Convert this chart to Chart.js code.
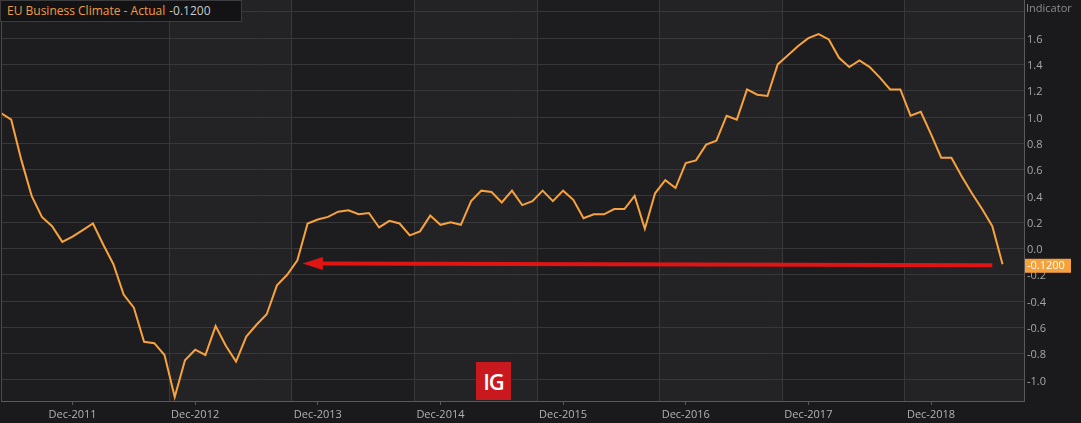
<!DOCTYPE html>
<html>
<head>
<meta charset="utf-8">
<script src="https://cdn.jsdelivr.net/npm/chart.js@4/dist/chart.umd.min.js"></script>
<style>
    html, body { margin: 0; padding: 0; background: #1a1a1c; }
    #wrap { position: relative; width: 1081px; height: 423px; overflow: hidden; }
    canvas { display: block; }
    #legendBox {
        position: absolute; left: 0; top: 0; width: 242px; height: 22px;
        background: #131315; border: 1px solid #3c3c3e; box-sizing: border-box;
        font: 12px "Open Sans", sans-serif; line-height: 20px; padding-left: 6px;
        white-space: nowrap;
    }
    #legendBox .name { color: #f39b3e; }
    #legendBox .val { color: #c8c8c8; margin-left: 4px; }
    #igLogo {
        position: absolute; left: 476px; top: 362px; width: 35px; height: 38px;
        background: #c9191e; color: #fff; text-align: center;
        font: 600 22px "Open Sans", sans-serif; line-height: 38px; letter-spacing: -1px;
    }
</style>
</head>
<body>
<div id="wrap">
    <canvas id="chart" width="1081" height="423"></canvas>
    <div id="legendBox"><span class="name">EU Business Climate - Actual</span><span class="val">-0.1200</span></div>
    <div id="igLogo">IG</div>
</div>
<script>
// Data bulanan, mulai Mei 2011 sampai Juli 2019
const startYear = 2011;
const startMonth = 4; // Mei (0 = Jan)
const monthNames = ["Jan", "Feb", "Mar", "Apr", "May", "Jun", "Jul", "Aug", "Sep", "Oct", "Nov", "Dec"];

const climateValues = [
    1.03, 0.98, 0.67, 0.40, 0.24, 0.17, 0.05, 0.09, 0.14, 0.19,
    0.03, -0.12, -0.35, -0.45, -0.71, -0.72, -0.81, -1.13, -0.85, -0.77,
    -0.81, -0.59, -0.74, -0.86, -0.67, -0.58, -0.50, -0.28, -0.20, -0.09,
    0.19, 0.22, 0.24, 0.28, 0.29, 0.26, 0.27, 0.16, 0.21, 0.19,
    0.10, 0.13, 0.25, 0.18, 0.20, 0.18, 0.36, 0.44, 0.43, 0.35,
    0.44, 0.33, 0.36, 0.44, 0.36, 0.44, 0.37, 0.23, 0.26, 0.26,
    0.30, 0.30, 0.40, 0.15, 0.42, 0.52, 0.46, 0.65, 0.67, 0.79,
    0.82, 1.01, 0.98, 1.21, 1.17, 1.16, 1.40, 1.47, 1.54, 1.60,
    1.63, 1.59, 1.45, 1.38, 1.43, 1.38, 1.30, 1.21, 1.21, 1.01,
    1.04, 0.87, 0.69, 0.69, 0.55, 0.42, 0.30, 0.17, -0.12
];

const yTicks = [-1.0, -0.8, -0.6, -0.4, -0.2, 0.0, 0.2, 0.4, 0.6, 0.8, 1.0, 1.2, 1.4, 1.6, 1.8];
const yLabelHidden = [1.8];
const yMin = -1.16;
const yMax = 1.89;
const xMax = 100.1;

// garis grid vertikal (dalam indeks bulan) dan panah merah
const gridMonths = [16.45, 28.45, 40.45, 52.45, 64.45, 76.45, 88.45];
const arrowTail = { x: 97.0, y: -0.128 };
const arrowBase = { x: 31.3, y: -0.115 };
const arrowTip = { x: 29.5, y: -0.115 };

const lastValue = climateValues[climateValues.length - 1];

// label bulan untuk sumbu x
const months = climateValues.map((v, i) => {
    const m = (startMonth + i) % 12;
    const y = startYear + Math.floor((startMonth + i) / 12);
    return monthNames[m] + "-" + y;
});
const decIndex = months.map((m, i) => (m.startsWith("Dec") ? i : -1)).filter((i) => i >= 0);

// Plugin untuk latar, pita selang-seling, panah dan label nilai
const decorPlugin = {
    id: "decor",
    beforeDraw(chart) {
        const { ctx, chartArea: a, scales } = chart;
        ctx.save();
        ctx.fillStyle = "#1d1d1f";
        ctx.fillRect(a.left, a.top, a.right - a.left, a.bottom - a.top);
        ctx.fillStyle = "#232325";
        const edges = gridMonths.map((g) => scales.xg.getPixelForValue(g));
        edges.push(a.right);
        for (let k = 0; k < edges.length - 1; k += 2) {
            ctx.fillRect(edges[k], a.top, edges[k + 1] - edges[k], a.bottom - a.top);
        }
        ctx.restore();
    },
    afterDatasetsDraw(chart) {
        const { ctx, scales } = chart;
        const tipX = scales.x.getPixelForValue(arrowTip.x);
        const tipY = scales.y.getPixelForValue(arrowTip.y);
        const baseX = scales.x.getPixelForValue(arrowBase.x) + 2;
        ctx.save();
        ctx.fillStyle = "#e01414";
        ctx.beginPath();
        ctx.moveTo(tipX, tipY);
        ctx.lineTo(baseX, tipY - 6.5);
        ctx.lineTo(baseX, tipY + 6.5);
        ctx.closePath();
        ctx.fill();
        ctx.restore();
    },
    afterDraw(chart) {
        const { ctx, chartArea: a, scales } = chart;
        ctx.save();
        // garis tepi kiri
        ctx.strokeStyle = "#4a4a4c";
        ctx.lineWidth = 1;
        ctx.beginPath();
        ctx.moveTo(a.left + 0.5, a.top);
        ctx.lineTo(a.left + 0.5, a.bottom);
        ctx.stroke();

        // judul sumbu
        ctx.font = '11px "Open Sans", sans-serif';
        ctx.fillStyle = "#8c8c8c";
        ctx.textBaseline = "middle";
        ctx.textAlign = "left";
        ctx.fillText("Indicator", a.right + 2, 9);

        // kotak nilai terakhir
        const py = scales.y.getPixelForValue(lastValue) + 1.5;
        ctx.fillStyle = "#f7a13c";
        ctx.fillRect(a.right + 1, py - 7, 46, 14);
        ctx.fillStyle = "#ffffff";
        ctx.fillText(lastValue.toFixed(4), a.right + 3, py + 0.5);
        ctx.restore();
    }
};

const ctx = document.getElementById("chart").getContext("2d");

new Chart(ctx, {
    type: "line",
    data: {
        datasets: [
            {
                label: "EU Business Climate - Actual",
                data: climateValues.map((v, i) => ({ x: i, y: v })),
                borderColor: "#f7a23e",
                borderWidth: 2,
                pointRadius: 0,
                tension: 0,
                fill: false,
            },
            {
                label: "arrow",
                data: [arrowTail, arrowBase],
                borderColor: "#e01414",
                borderWidth: 4,
                pointRadius: 0,
                fill: false,
            },
        ],
    },
    options: {
        responsive: false,
        animation: false,
        events: [],
        layout: { padding: { left: 1, top: 0, right: 0, bottom: 0 } },
        plugins: {
            legend: { display: false },
            tooltip: { enabled: false },
        },
        scales: {
            x: {
                type: "linear",
                position: "bottom",
                min: 0,
                max: xMax,
                afterBuildTicks: (scale) => {
                    scale.ticks = decIndex.map((v) => ({ value: v }));
                },
                afterFit: (scale) => {
                    scale.height = 22;
                    scale.paddingLeft = 0;
                    scale.paddingRight = 0;
                },
                ticks: {
                    autoSkip: false,
                    maxRotation: 0,
                    padding: 3,
                    color: "#b2b2b2",
                    font: { family: "Open Sans", size: 11 },
                    callback: (value) => months[value] || "",
                },
                grid: {
                    drawOnChartArea: false,
                    drawTicks: true,
                    tickLength: 4,
                    color: "#5a5a5c",
                },
                border: { color: "#5a5a5c", width: 1 },
            },
            xg: {
                type: "linear",
                position: "bottom",
                min: 0,
                max: xMax,
                afterBuildTicks: (scale) => {
                    scale.ticks = gridMonths.map((v) => ({ value: v }));
                },
                afterFit: (scale) => {
                    scale.height = 0;
                    scale.paddingLeft = 0;
                    scale.paddingRight = 0;
                },
                ticks: { display: false },
                grid: { color: "#38383a", drawTicks: false },
                border: { display: false },
            },
            y: {
                type: "linear",
                position: "right",
                min: yMin,
                max: yMax,
                afterBuildTicks: (scale) => {
                    scale.ticks = yTicks.map((v) => ({ value: v }));
                },
                afterFit: (scale) => {
                    scale.width = 57;
                    scale.paddingTop = 0;
                    scale.paddingBottom = 0;
                },
                ticks: {
                    padding: 3,
                    labelOffset: 1.5,
                    color: "#a6a6a6",
                    font: { family: "Open Sans", size: 11 },
                    callback: (value) =>
                        yLabelHidden.includes(Math.round(value * 10) / 10)
                            ? ""
                            : (Math.round(value * 10) / 10).toFixed(1),
                },
                grid: { color: "#38383a", drawTicks: false },
                border: { color: "#5a5a5c", width: 1 },
            },
        },
    },
    plugins: [decorPlugin],
});
</script>
</body>
</html>
